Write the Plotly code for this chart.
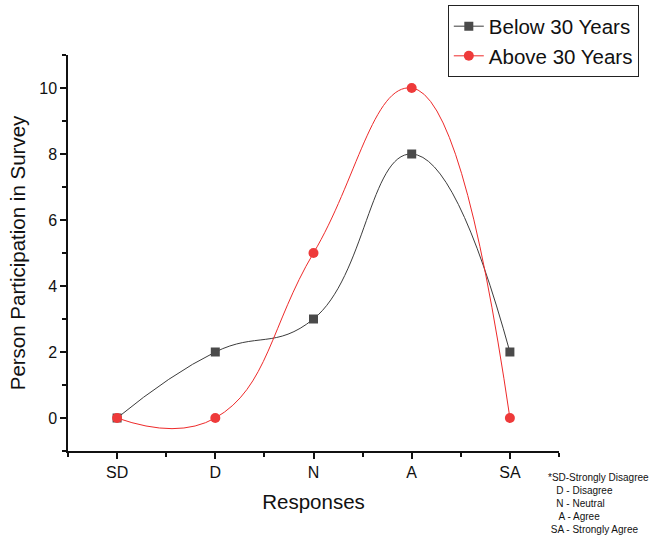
import plotly.graph_objects as go

categories = ["SD", "D", "N", "A", "SA"]
positions = [1, 2, 3, 4, 5]
below_30 = [0, 2, 3, 8, 2]
above_30 = [0, 0, 5, 10, 0]
y_ticks = [0, 2, 4, 6, 8, 10]

fig = go.Figure()
fig.add_trace(go.Scatter(
    x=positions, y=below_30, name="Below 30 Years", mode="lines+markers",
    line=dict(color="#3c3c3c", width=1, shape="spline", smoothing=1.3),
    marker=dict(symbol="square", size=9, color="#4a4a4a")))
fig.add_trace(go.Scatter(
    x=positions, y=above_30, name="Above 30 Years", mode="lines+markers",
    line=dict(color="#ee2a2a", width=1, shape="spline", smoothing=1.3),
    marker=dict(symbol="circle", size=10, color="#ee3a3a")))

fig.update_layout(
    width=649, height=535,
    margin=dict(l=68, r=90, t=55, b=84, autoexpand=False),
    paper_bgcolor="white", plot_bgcolor="white",
    font=dict(family="Arial, Liberation Sans, sans-serif", color="#111"),
    showlegend=True,
    legend=dict(xref="container", yref="container", x=0.69, xanchor="left",
                y=0.99, yanchor="top",
                bordercolor="#222", borderwidth=1, bgcolor="white",
                font=dict(size=20.5, color="#111"), tracegroupgap=0),
    xaxis=dict(range=[0.5, 5.5], tickvals=positions, ticktext=categories,
               automargin=False,
               showgrid=False, zeroline=False, showline=True, linecolor="#111",
               linewidth=1.5, ticks="outside", ticklen=6, tickwidth=1.5,
               tickcolor="#111", tickfont=dict(size=16),
               minor=dict(dtick=0.5, tick0=0.5, ticks="outside", ticklen=4,
                          tickwidth=1.5, tickcolor="#111"),
               title=dict(text="Responses", font=dict(size=20.5), standoff=15)),
    yaxis=dict(range=[-1, 11], tickvals=y_ticks, showgrid=False,
               automargin=False,
               zeroline=False, showline=True, linecolor="#111", linewidth=1.5,
               ticks="outside", ticklen=6, tickwidth=1.5, tickcolor="#111",
               tickfont=dict(size=16),
               minor=dict(dtick=1, tick0=-1, ticks="outside", ticklen=4,
                          tickwidth=1.5, tickcolor="#111"),
               title=dict(text="Person Participation in Survey",
                          font=dict(size=20.5), standoff=8)),
)

fig.add_annotation(
    text="*SD-Strongly Disagree<br>   D - Disagree<br>   N - Neutral<br>    A - Agree<br> SA - Strongly Agree",
    xref="paper", yref="paper", x=1.187, y=-0.048, xanchor="right", yanchor="top",
    align="left", showarrow=False, font=dict(size=10, color="#111"))

fig.write_html(
    "out.html",
    config={"displayModeBar": False},
    post_script="document.body.style.margin='0';document.body.style.overflow='hidden';",
)
